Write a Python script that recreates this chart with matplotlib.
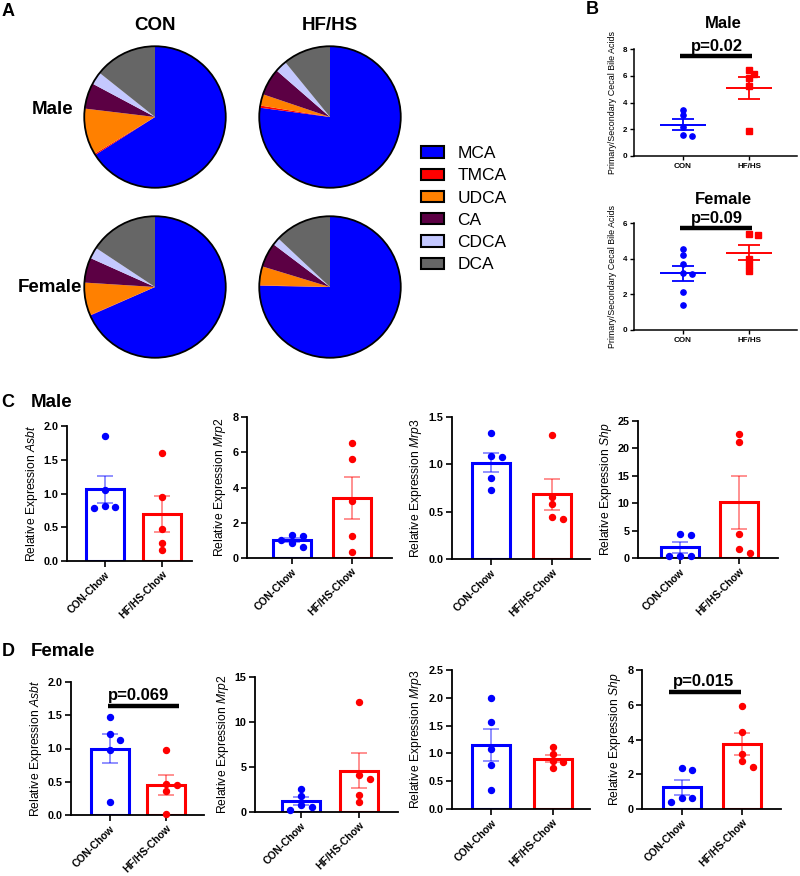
import numpy as np
import matplotlib
matplotlib.use('Agg')
import matplotlib.pyplot as plt
from matplotlib.patches import Patch, Circle
from matplotlib.ticker import FormatStrFormatter, MultipleLocator

plt.rcParams['font.family'] = ['Liberation Sans', 'DejaVu Sans']
plt.rcParams['mathtext.fontset'] = 'custom'
plt.rcParams['mathtext.rm'] = 'Liberation Sans'
plt.rcParams['mathtext.it'] = 'Liberation Sans:italic'
plt.rcParams['mathtext.bf'] = 'Liberation Sans:bold'

# ---------------- data ----------------
bile_acids = ['MCA', 'TMCA', 'UDCA', 'CA', 'CDCA', 'DCA']
pie_male_con = [66.0, 0.3, 10.6, 5.9, 2.9, 14.3]
pie_male_hfhs = [77.1, 0.5, 2.6, 6.2, 2.7, 10.9]
pie_female_con = [68.4, 0.1, 7.5, 5.7, 2.6, 15.7]
pie_female_hfhs = [75.3, 0.1, 4.3, 5.6, 1.7, 13.0]
pie_cols = ['CON', 'HF/HS']
pie_rows = ['Male', 'Female']

groups_b = ['CON', 'HF/HS']
ratio_male_con = [3.45, 3.05, 2.15, 1.6, 1.5]
ratio_male_hfhs = [6.4, 6.1, 5.85, 5.2, 1.9]
ratio_female_con = [4.55, 4.2, 3.72, 3.2, 3.15, 2.12, 1.4]
ratio_female_hfhs = [5.4, 5.35, 4.0, 3.65, 3.3]
p_b_male = 'p=0.02'
p_b_female = 'p=0.09'

groups_cd = ['CON-Chow', 'HF/HS-Chow']
genes = ['Asbt', 'Mrp2', 'Mrp3', 'Shp']
asbt_male_con = [1.85, 1.05, 0.82, 0.80, 0.78]
asbt_male_hfhs = [1.6, 0.95, 0.48, 0.27, 0.16]
mrp2_male_con = [1.33, 1.22, 1.02, 0.85, 0.62]
mrp2_male_hfhs = [6.5, 5.6, 3.25, 1.27, 0.35]
mrp3_male_con = [1.33, 1.09, 1.08, 0.86, 0.73]
mrp3_male_hfhs = [1.31, 0.66, 0.58, 0.44, 0.42]
shp_male_con = [4.3, 4.25, 0.4, 0.35, 0.3]
shp_male_hfhs = [22.6, 21.1, 4.3, 1.7, 1.0]

asbt_female_con = [1.47, 1.22, 1.13, 0.97, 0.2]
asbt_female_hfhs = [0.97, 0.46, 0.45, 0.36, 0.02]
mrp2_female_con = [2.6, 1.8, 0.8, 0.6, 0.25]
mrp2_female_hfhs = [12.2, 4.1, 3.7, 1.9, 1.1]
mrp3_female_con = [2.0, 1.56, 1.08, 0.8, 0.35]
mrp3_female_hfhs = [1.11, 0.99, 0.86, 0.84, 0.73]
shp_female_con = [2.37, 2.22, 0.65, 0.62, 0.42]
shp_female_hfhs = [5.95, 4.45, 3.15, 2.75, 2.4]
p_d_asbt = 'p=0.069'
p_d_shp = 'p=0.015'

# ---------------- style ----------------
BLUE = '#0000ff'
RED = '#ff0000'
PIE_COLORS = ['#0000ff', '#ff0000', '#ff8000', '#5c0044', '#c4c8ff', '#666666']

W, H = 800, 876
fig = plt.figure(figsize=(W / 100, H / 100), dpi=100)


def rect(l, t, r, b):
    return [l / W, 1 - b / H, (r - l) / W, (b - t) / H]


def fx(x):
    return x / W


def fy(y):
    return 1 - y / H


def swarm(ax, xc, vals, step_px, coll_px):
    trans = ax.transData
    inv = trans.inverted()
    x0 = trans.transform((xc, 0))[0]
    order = sorted(range(len(vals)), key=lambda i: -vals[i])
    placed = []
    xs = [0.0] * len(vals)
    for i in order:
        yp = trans.transform((xc, vals[i]))[1]
        xp = x0
        for k in [0, 1, -1, 2, -2, 3, -3]:
            xp = x0 + k * step_px
            if all((xp - a) ** 2 + (yp - b) ** 2 >= coll_px ** 2 for a, b in placed):
                break
        placed.append((xp, yp))
        xs[i] = inv.transform((xp, yp))[0]
    return xs


def style_axes(ax, lw=1.3):
    for s in ['top', 'right']:
        ax.spines[s].set_visible(False)
    for s in ['left', 'bottom']:
        ax.spines[s].set_linewidth(lw)


# ---------------- Panel A: pies ----------------
pie_sets = [(155, 117, pie_male_con), (330, 117, pie_male_hfhs),
            (155, 287, pie_female_con), (330, 287, pie_female_hfhs)]
for cx, cy, vals in pie_sets:
    ax = fig.add_axes(rect(cx - 75, cy - 75, cx + 75, cy + 75))
    ax.pie(vals, colors=PIE_COLORS, startangle=90, counterclock=False,
           wedgeprops=dict(linewidth=0))
    ax.add_patch(Circle((0, 0), 1, fill=False, lw=1.3, ec='black'))
    ax.set_xlim(-1.06, 1.06)
    ax.set_ylim(-1.06, 1.06)
    ax.set_aspect('equal')
    ax.axis('off')

fig.text(fx(8), fy(11), 'A', fontsize=13, fontweight='bold', ha='center', va='center')
fig.text(fx(155), fy(25), pie_cols[0], fontsize=13.5, fontweight='bold', ha='center', va='center')
fig.text(fx(330), fy(25), pie_cols[1], fontsize=13.5, fontweight='bold', ha='center', va='center')
fig.text(fx(53), fy(109), pie_rows[0], fontsize=13.5, fontweight='bold', ha='center', va='center')
fig.text(fx(50), fy(288), pie_rows[1], fontsize=13.5, fontweight='bold', ha='center', va='center')

handles = [Patch(facecolor=c, edgecolor='black', lw=1.5) for c in PIE_COLORS]
fig.legend(handles, bile_acids, loc='upper left', bbox_to_anchor=(fx(421), fy(146)),
           frameon=False, fontsize=12.5, handlelength=1.3, handleheight=0.62,
           handletextpad=0.8, labelspacing=0.42, borderpad=0, borderaxespad=0)

# ---------------- Panel B ----------------
fig.text(fx(592), fy(10), 'B', fontsize=13, fontweight='bold', ha='center', va='center')


def b_panel(top, bottom, con, hf, ytop, ystep, title, title_y, ptxt, pbar_y):
    ax = fig.add_axes(rect(634, top, 797, bottom))
    u = 66.0
    ax.set_xlim((634 - 683) / u, (797 - 683) / u)
    ax.set_ylim(0, ytop)
    ax.yaxis.set_major_locator(MultipleLocator(ystep))
    style_axes(ax, 1.1)
    for i, (vals, col, mk) in enumerate([(con, BLUE, 'o'), (hf, RED, 's')]):
        v = np.array(vals)
        m = v.mean()
        s = v.std(ddof=1) / np.sqrt(len(v))
        xs = swarm(ax, i, vals, 4.6, 5.0)
        ax.plot(xs, vals, ls='none', marker=mk, ms=3.8, color=col, zorder=3, clip_on=False)
        ax.hlines(m, i - 0.35, i + 0.35, color=col, lw=1.4, zorder=4)
        ax.errorbar(i, m, yerr=s, color=col, capsize=8, lw=1.3, capthick=1.3, zorder=4)
    ax.set_xticks([0, 1])
    ax.set_xticklabels(groups_b, fontsize=5.8, fontweight='bold')
    ax.tick_params(direction='out', length=3, width=1.0, labelsize=5.8, pad=2)
    for lbl in ax.get_yticklabels():
        lbl.set_fontweight('bold')
    ax.set_ylabel('Primary/Secondary Cecal Bile Acids', fontsize=6.4, labelpad=4)
    ax.plot([-0.05, 1.05], [pbar_y, pbar_y], color='black', lw=3.2, clip_on=False,
            solid_capstyle='butt')
    ax.text(0.52, pbar_y + ytop * 0.015, ptxt, fontsize=12, fontweight='bold',
            ha='center', va='bottom', clip_on=False)
    fig.text(fx(723), fy(title_y), title, fontsize=12, fontweight='bold', ha='center', va='center')


b_panel(49, 156, ratio_male_con, ratio_male_hfhs, 8, 2, 'Male', 23, p_b_male, 7.5)
b_panel(223, 330, ratio_female_con, ratio_female_hfhs, 6, 2, 'Female', 200, p_b_female, 5.74)

# ---------------- Panels C & D ----------------
fig.text(fx(8), fy(402), 'C', fontsize=13, fontweight='bold', ha='center', va='center')
fig.text(fx(31), fy(402), 'Male', fontsize=13.5, fontweight='bold', ha='left', va='center')
fig.text(fx(8), fy(652), 'D', fontsize=13, fontweight='bold', ha='center', va='center')
fig.text(fx(31), fy(652), 'Female', fontsize=13.5, fontweight='bold', ha='left', va='center')


def bar_panel(lay, gene, con, hf, ytop, ystep, fmt, pval=None):
    l, r, t, b, c0, c1 = lay
    ax = fig.add_axes(rect(l, t, r, b))
    u = c1 - c0
    ax.set_xlim((l - c0) / u, (r - c0) / u)
    ax.set_ylim(0, ytop)
    ax.yaxis.set_major_locator(MultipleLocator(ystep))
    if fmt:
        ax.yaxis.set_major_formatter(FormatStrFormatter(fmt))
    style_axes(ax, 1.3)
    bw = 38.0 / u
    for i, (vals, col) in enumerate([(con, BLUE), (hf, RED)]):
        v = np.array(vals)
        m = v.mean()
        s = v.std(ddof=1) / np.sqrt(len(v))
        ax.bar(i, m, width=bw, facecolor='white', edgecolor=col, lw=2.2, zorder=2)
        ax.errorbar(i, m, yerr=s, color=col, alpha=0.55, capsize=6, lw=1.1,
                    capthick=1.1, zorder=3)
        xs = swarm(ax, i, vals, 10.7, 6.5)
        ax.plot(xs, vals, ls='none', marker='o', ms=4.3, color=col, zorder=4, clip_on=False)
    ax.set_xticks([0, 1])
    ax.set_xticklabels(groups_cd, rotation=45, ha='right', rotation_mode='anchor',
                       fontsize=7.5, fontweight='bold')
    ax.tick_params(axis='y', direction='out', length=4, width=1.2, labelsize=7.8, pad=2)
    ax.tick_params(axis='x', direction='out', length=4, width=1.2, labelsize=7.5, pad=2)
    for lbl in ax.get_yticklabels():
        lbl.set_fontweight('bold')
    ax.set_ylabel('Relative Expression $\\it{' + gene + '}$', fontsize=8.7, labelpad=3)
    if pval is not None:
        txt, py, xa, xb, xt = pval
        ax.plot([xa, xb], [py, py], color='black', lw=3.2, clip_on=False, solid_capstyle='butt')
        ax.text(xt, py + ytop * 0.02, txt, fontsize=12, fontweight='bold',
                ha='center', va='bottom', clip_on=False)
    return ax


layout_c = [(67, 192, 426, 561, 104.5, 162.0),
            (247, 392, 417, 558, 292.0, 351.5),
            (452, 590, 417, 559, 491.0, 552.0),
            (638, 778, 421, 558, 680.0, 739.0)]
layout_d = [(71, 204, 682, 815, 109.5, 166.0),
            (255, 398, 677, 812, 301.0, 359.5),
            (452, 590, 670, 809, 491.5, 552.5),
            (642, 781, 670, 809, 681.5, 742.0)]

bar_panel(layout_c[0], genes[0], asbt_male_con, asbt_male_hfhs, 2.0, 0.5, '%.1f')
bar_panel(layout_c[1], genes[1], mrp2_male_con, mrp2_male_hfhs, 8, 2, None)
bar_panel(layout_c[2], genes[2], mrp3_male_con, mrp3_male_hfhs, 1.5, 0.5, '%.1f')
bar_panel(layout_c[3], genes[3], shp_male_con, shp_male_hfhs, 25, 5, None)

bar_panel(layout_d[0], genes[0], asbt_female_con, asbt_female_hfhs, 2.0, 0.5, '%.1f',
          (p_d_asbt, 1.64, -0.03, 1.23, 0.52))
bar_panel(layout_d[1], genes[1], mrp2_female_con, mrp2_female_hfhs, 15, 5, None)
bar_panel(layout_d[2], genes[2], mrp3_female_con, mrp3_female_hfhs, 2.5, 0.5, '%.1f')
bar_panel(layout_d[3], genes[3], shp_female_con, shp_female_hfhs, 8, 2, None,
          (p_d_shp, 6.75, -0.2, 0.98, 0.36))

fig.savefig('out.png', dpi=100)
